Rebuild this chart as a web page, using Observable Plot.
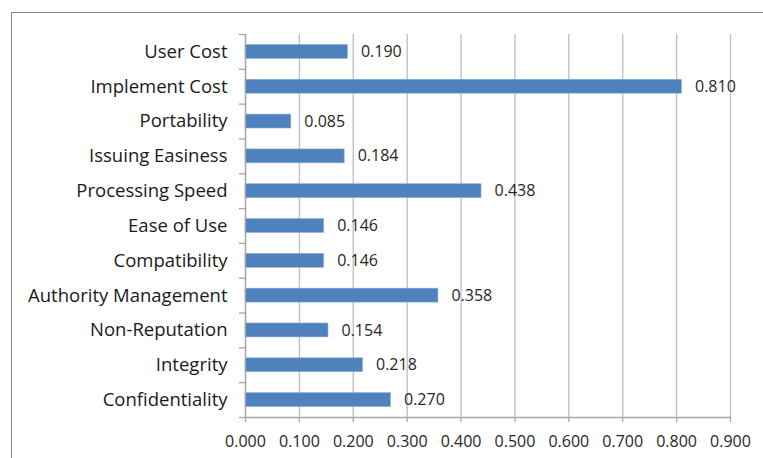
<!DOCTYPE html>
<html>
<head>
<meta charset="utf-8">
<script src="https://cdn.jsdelivr.net/npm/d3@7"></script>
<script src="https://cdn.jsdelivr.net/npm/@observablehq/plot@0.6"></script>
<style>
  html, body { margin: 0; padding: 0; background: #fff; overflow: hidden; }
  #wrap { position: relative; width: 763px; height: 458px; overflow: hidden; }
  #border { position: absolute; left: 11px; top: 12px; width: 800px; height: 500px;
            border-top: 1.5px solid #888; border-left: 1.5px solid #888; box-sizing: border-box; }
  #chart { position: absolute; left: 0; top: 0; }
</style>
</head>
<body>
<div id="wrap"><div id="border"></div><div id="chart"></div></div>
<script>
const categories = ["User Cost", "Implement Cost", "Portability", "Issuing Easiness", "Processing Speed",
  "Ease of Use", "Compatibility", "Authority Management", "Non-Reputation", "Integrity", "Confidentiality"];
const values = [0.190, 0.810, 0.085, 0.184, 0.438, 0.146, 0.146, 0.358, 0.154, 0.218, 0.270];
const xTicks = [0, 0.1, 0.2, 0.3, 0.4, 0.5, 0.6, 0.7, 0.8, 0.9];

const data = categories.map((c, i) => ({category: c, value: values[i]}));
const W = 763, H = 458, mt = 34, mb = 41;
const step = (H - mt - mb) / categories.length;
const font = "'Open Sans', 'Noto Sans', sans-serif";

const chart = Plot.plot({
  width: W, height: H,
  marginLeft: 245, marginRight: 33, marginTop: mt, marginBottom: mb,
  style: {fontFamily: font, background: "transparent", overflow: "visible"},
  x: {domain: [0, 0.9], ticks: xTicks, tickFormat: d3.format(".3f")},
  y: {domain: categories, paddingInner: 0.6, paddingOuter: 0.3, round: false},
  marks: [
    Plot.gridX(xTicks, {stroke: "#BEBEBE", strokeOpacity: 1, strokeWidth: 1.3}),
    Plot.barX(data, {y: "category", x: "value", fill: "#4F81BD", stroke: "#8FAEDA", strokeWidth: 0.6}),
    Plot.text(data, {y: "category", x: "value", text: d => d3.format(".3f")(d.value),
      textAnchor: "start", dx: 13, fontSize: 16, fill: "#262626"}),
    Plot.ruleX([0], {stroke: "#A6A6A6", strokeWidth: 1.3}),
    Plot.frame({anchor: "bottom", stroke: "#A6A6A6", strokeWidth: 1.3}),
    Plot.axisX(xTicks, {tickSize: 5, tickPadding: 13, stroke: "#A6A6A6", strokeWidth: 1.3,
      fontSize: 16, fill: "#262626", label: null, tickFormat: d3.format(".3f")}),
    Plot.axisY({tickSize: 0, tickPadding: 18, fontSize: 18.5, fill: "#1a1a1a", label: null}),
    Plot.axisY({tickSize: 6, tickFormat: () => "", dy: -step / 2, stroke: "#A6A6A6", strokeWidth: 1.3, label: null}),
    Plot.axisY([categories[categories.length - 1]], {tickSize: 6, tickFormat: () => "", dy: step / 2,
      stroke: "#A6A6A6", strokeWidth: 1.3, label: null})
  ]
});
document.getElementById("chart").appendChild(chart);
</script>
</body>
</html>
